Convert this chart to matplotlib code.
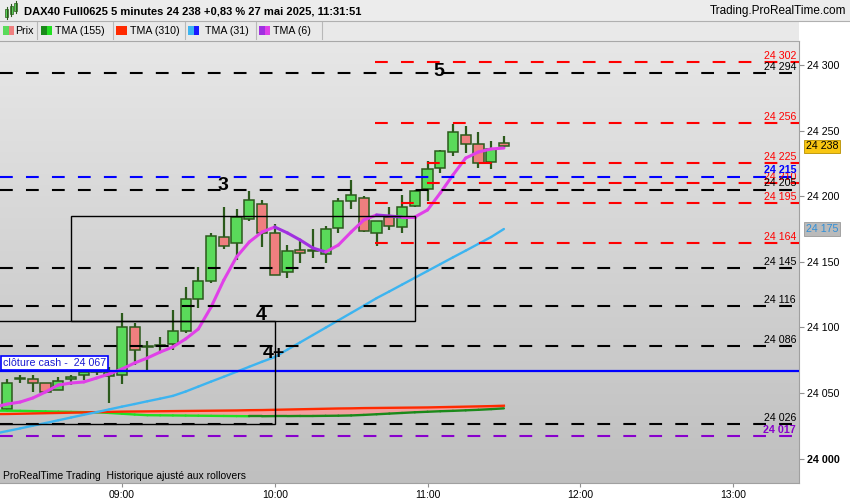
import numpy as np
import matplotlib.pyplot as plt
from matplotlib.patches import Rectangle
from matplotlib.colors import LinearSegmentedColormap
import matplotlib.transforms as mtransforms

plt.rcParams['font.family'] = ['Liberation Sans', 'DejaVu Sans']
plt.rcParams['lines.scale_dashes'] = False
NARROW = ['Liberation Sans Narrow', 'Liberation Sans', 'DejaVu Sans']

# 5 minute candles, 08:15 -> 11:30
opens = [24038, 24060.5, 24061, 24058, 24052, 24061, 24064, 24066, 24063, 24064,
         24100, 24086, 24085.5, 24087, 24097, 24122, 24135, 24169, 24164, 24183,
         24194, 24172, 24142, 24159, 24158.5, 24156, 24176, 24196, 24199, 24172,
         24184, 24176.5, 24192.5, 24205.5, 24221.5, 24234, 24247, 24240, 24226, 24240.5]
highs = [24061, 24064, 24064, 24058, 24062, 24064, 24069, 24068, 24070, 24111,
         24103, 24090, 24093, 24113, 24131, 24146, 24172, 24192, 24190, 24204,
         24197, 24179, 24163, 24167, 24175, 24177, 24199, 24212, 24200, 24181,
         24192, 24201, 24204.5, 24227, 24235, 24255, 24253.5, 24249, 24242, 24246]
lows = [24037, 24058, 24051, 24050, 24052, 24056, 24060, 24064, 24042, 24057,
        24071, 24067, 24081, 24083, 24096, 24115, 24134, 24160, 24151, 24181,
        24161, 24140, 24138, 24149, 24153, 24149, 24172, 24190, 24173, 24162,
        24174, 24172, 24192, 24196, 24218, 24231, 24233, 24221.5, 24221, 24237]
closes = [24058, 24061, 24058, 24051, 24059, 24062, 24066, 24066.5, 24066, 24100,
          24083, 24085, 24086.5, 24097, 24122, 24135, 24170, 24162, 24184, 24197,
          24172, 24140, 24158, 24157, 24159, 24175, 24196, 24201, 24173.5, 24181,
          24177, 24192, 24204, 24221, 24234.5, 24249, 24240, 24225, 24236, 24238]

# moving averages, first value = bar before 08:15
tma6 = [24039.3, 24041.6, 24043.1, 24046.2, 24050.8, 24056.1, 24057.6, 24058.4, 24061.4, 24064.5,
        24068.3, 24072.9, 24076.7, 24081.2, 24085.1, 24091.2, 24098.8, 24115.5, 24136.1, 24153.7,
        24165.1, 24172.7, 24176.5, 24172.0, 24166.6, 24160.5, 24157.5, 24162.8, 24172.7, 24181.9,
        24185.7, 24184.9, 24184.1, 24184.1, 24189.5, 24202.4, 24216.2, 24229.1, 24233.7, 24236.0, 24236.7]
tma31 = [24019.0, 24021.0, 24023.0, 24025.1, 24027.1, 24029.2, 24031.3, 24033.4, 24035.4, 24037.5,
         24039.6, 24041.6, 24043.7, 24045.7, 24047.8, 24051.1, 24054.9, 24058.7, 24062.4, 24066.2,
         24070.0, 24073.8, 24077.4, 24083.1, 24088.6, 24094.2, 24099.8, 24105.4, 24111.0, 24116.6,
         24122.3, 24127.4, 24132.6, 24137.8, 24143.0, 24148.2, 24153.4, 24158.5, 24163.7, 24168.9, 24175.0]
tma155 = [24036.6, 24036.5, 24036.4, 24036.2, 24036.0, 24035.8, 24035.6, 24035.4, 24035.3, 24034.8,
          24034.2, 24033.6, 24033.1, 24033.0, 24032.9, 24032.8, 24032.7, 24032.6, 24032.5, 24032.4,
          24032.3, 24032.3, 24032.4, 24032.4, 24032.5, 24032.5, 24032.6, 24032.7, 24032.9, 24033.3,
          24033.8, 24034.3, 24034.8, 24035.3, 24035.7, 24036.1, 24036.4, 24036.8, 24037.2, 24037.7, 24038.3]
tma310 = [24033.9, 24034.0, 24034.2, 24034.4, 24034.6, 24034.8, 24035.0, 24035.2, 24035.4, 24035.6,
          24035.8, 24035.9, 24036.0, 24036.1, 24036.2, 24036.3, 24036.4, 24036.5, 24036.6, 24036.7,
          24036.9, 24037.0, 24037.2, 24037.4, 24037.6, 24037.8, 24038.0, 24038.2, 24038.3, 24038.5,
          24038.6, 24038.7, 24038.8, 24038.9, 24039.0, 24039.2, 24039.4, 24039.6, 24039.8, 24040.0, 24040.3]

black_levels = [24294, 24205, 24145, 24116, 24086, 24026]
red_levels = [24302, 24256, 24225, 24210, 24195, 24164]
blue_level = 24215
purple_level = 24017
cash_close = 24067
last_price = 24238

time_ticks = [9, 21, 33, 45, 57]
time_labels = ['09:00', '10:00', '11:00', '12:00', '13:00']
price_ticks = [24000, 24050, 24100, 24150, 24200, 24250, 24300]

# boxes (start bar, end bar, low, high) and wave labels
boxes = [(5, 32, 24105, 24185), (-1, 21, 24026, 24105)]
waves = [('3', 16.9, 24208), ('4', 19.9, 24109), ('4+', 20.9, 24080), ('5', 33.9, 24295)]


def fmt(v):
    return f'{v:,}'.replace(',', ' ')


W, H = 850, 500


def fig_box(x0, y0, x1, y1):
    return [x0 / W, 1 - y1 / H, (x1 - x0) / W, (y1 - y0) / H]


fig = plt.figure(figsize=(8.5, 5), dpi=100)
fig.patch.set_facecolor('white')

# header bars
fig.add_artist(Rectangle((0, 1 - 21 / H), 1, 21 / H, transform=fig.transFigure,
                         fc='#ececec', ec='none'))
fig.add_artist(Rectangle((0, 1 - 41 / H), 799 / W, 20 / H, transform=fig.transFigure,
                         fc='#e9e9e9', ec='none'))
fig.add_artist(plt.Line2D([0, 1], [1 - 21 / H] * 2, transform=fig.transFigure, color='#b0b0b0', lw=0.8))
fig.add_artist(plt.Line2D([0, 799 / W], [1 - 40.5 / H] * 2, transform=fig.transFigure, color='#a8a8a8', lw=0.8))

# little candle icon
for cx, cy0, cy1 in [(6.5, 9, 17), (11, 6, 14), (15.5, 3, 11)]:
    fig.add_artist(plt.Line2D([cx / W] * 2, [1 - (cy1 + 2) / H, 1 - (cy0 - 2) / H],
                              transform=fig.transFigure, color='#2b5a1b', lw=0.8))
    fig.add_artist(Rectangle(((cx - 1.5) / W, 1 - cy1 / H), 3 / W, (cy1 - cy0) / H,
                             transform=fig.transFigure, fc='#5ada5a', ec='#2b5a1b', lw=0.5))

fig.text(24 / W, 1 - 11 / H, 'DAX40 Full0625 5 minutes 24 238 +0,83 % 27 mai 2025, 11:31:51',
         fontsize=8, weight='bold', va='center', ha='left')
fig.text(846 / W, 1 - 11 / H, 'Trading.ProRealTime.com', fontsize=8.5, va='center', ha='right')

# legend row
legend_items = [
    ('Prix', ['#5ada5a', '#ef7f7f'], 3, 15),
    ('TMA (155)', ['#1a8a1a', '#22e022'], 41, 55),
    ('TMA (310)', ['#ff2a00', '#ff2a00'], 116, 130),
    ('TMA (31)', ['#3cb4f0', '#1a1aff'], 188, 205),
    ('TMA (6)', ['#a030e0', '#e040e8'], 259, 273),
]
for name, cols, sx, tx in legend_items:
    fig.add_artist(Rectangle((sx / W, 1 - 35 / H), 5.5 / W, 9 / H, transform=fig.transFigure,
                             fc=cols[0], ec='none'))
    fig.add_artist(Rectangle(((sx + 5.5) / W, 1 - 35 / H), 5.5 / W, 9 / H, transform=fig.transFigure,
                             fc=cols[1], ec='none'))
    fig.text(tx / W, 1 - 31 / H, name, fontsize=7.7, va='center', ha='left')
for sep in [37, 113, 185, 256, 322]:
    fig.add_artist(plt.Line2D([sep / W] * 2, [1 - 39 / H, 1 - 22 / H], transform=fig.transFigure,
                              color='#b8b8b8', lw=0.8))

# main axes
ax = fig.add_axes(fig_box(0, 41, 799, 483))
xlim = (-0.58, 62.18)
ylim = (23981.4, 24318.3)
ax.set_xlim(*xlim)
ax.set_ylim(*ylim)

bg = LinearSegmentedColormap.from_list('bg', ['#bfbfbf', '#e7e7e7'])
ax.imshow(np.linspace(0, 1, 256).reshape(-1, 1), extent=[xlim[0], xlim[1], ylim[0], ylim[1]],
          origin='lower', aspect='auto', cmap=bg, zorder=0)

# candles
wick = '#2b5a1b'
for i in range(len(opens)):
    o, h, l, c = opens[i], highs[i], lows[i], closes[i]
    ax.vlines(i, l, h, color=wick, lw=1.6, zorder=2)
    fc = '#5ada5a' if c >= o else '#ef7f7f'
    ax.add_patch(Rectangle((i - 0.4, min(o, c)), 0.8, max(abs(c - o), 0.6),
                           fc=fc, ec=wick, lw=1.1, zorder=3))

ma_x = np.arange(-1, len(opens))


def slope_line(vals, up_col, down_col, lw, z):
    for k in range(len(vals) - 1):
        col = up_col if vals[k + 1] >= vals[k] else down_col
        ax.plot(ma_x[k:k + 2], vals[k:k + 2], color=col, lw=lw,
                solid_capstyle='round', zorder=z)


g = np.array(tma155)
r = np.array(tma310)
ax.fill_between(ma_x, g, r, where=r >= g, interpolate=True, color='#f2a0a0', lw=0, zorder=4)
ax.fill_between(ma_x, g, r, where=r < g, interpolate=True, color='#a8e8a8', lw=0, zorder=4)
slope_line(tma155, '#1a8a1a', '#22e022', 1.7, 5)
ax.plot(ma_x, tma310, color='#ff2a00', lw=1.7, zorder=5)
slope_line(tma31, '#3cb4f0', '#1a1aff', 1.7, 5)
slope_line(tma6, '#e040e8', '#a030e0', 2.2, 6)

# horizontal levels
dash = (0, (9.2, 9.5))
lbl_x = 61.95
for lv in red_levels:
    ax.hlines(lv, 28.9, xlim[1], colors='#ff0000', lw=1.5, linestyles=[dash], zorder=7)
    ax.annotate(fmt(lv), (lbl_x, lv), xytext=(0, 2.3), textcoords='offset points',
                ha='right', va='baseline', fontsize=7.7, color='#ff0000', zorder=8)
ax.axhline(blue_level, color='#0000ff', lw=1.5, ls=dash, zorder=7)
ax.annotate(fmt(blue_level), (lbl_x, blue_level), xytext=(0, 2.3), textcoords='offset points',
            ha='right', va='baseline', fontsize=7.7, color='#0000ff', weight='bold', zorder=8)
for lv in black_levels:
    ax.axhline(lv, color='black', lw=1.5, ls=dash, zorder=7)
    ax.annotate(fmt(lv), (lbl_x, lv), xytext=(0, 2.3), textcoords='offset points',
                ha='right', va='baseline', fontsize=7.7, color='black', zorder=8)
ax.axhline(purple_level, color='#8800cc', lw=1.5, ls=dash, zorder=7)
ax.annotate(fmt(purple_level), (lbl_x, purple_level), xytext=(0, 2.3), textcoords='offset points',
            ha='right', va='baseline', fontsize=7.7, color='#8800cc', weight='bold', zorder=8)

ax.axhline(cash_close, color='#0000ff', lw=1.6, zorder=7)
ax.annotate('clôture cash -  ' + fmt(cash_close), (xlim[0], cash_close), xytext=(2, 2.2),
            textcoords='offset points', ha='left', va='bottom', fontsize=7.7, color='#1a1ad0',
            bbox=dict(boxstyle='square,pad=0.2', fc='white', ec='#0000ff', lw=1.2), zorder=9)

for x0, x1, y0, y1 in boxes:
    ax.add_patch(Rectangle((x0, y0), x1 - x0, y1 - y0, fill=False, ec='black', lw=1.0, zorder=7))

for txt, wx, wy in waves:
    ax.text(wx, wy, txt, fontsize=14, weight='bold', ha='center', va='center', color='black', zorder=9)

# axes styling
for s in ['left', 'top']:
    ax.spines[s].set_visible(False)
for s in ['right', 'bottom']:
    ax.spines[s].set_color('#a0a0a0')
    ax.spines[s].set_linewidth(0.8)

ax.yaxis.tick_right()
ax.set_yticks(price_ticks, [fmt(v) for v in price_ticks])
ax.tick_params(axis='y', length=3.5, color='#909090', labelsize=7.7, pad=2.5)
for t in ax.get_yticklabels():
    if t.get_text() == '24 000':
        t.set_fontweight('bold')
ax.set_xticks(time_ticks, time_labels)
ax.tick_params(axis='x', length=3, color='#909090', labelsize=7.5, pad=2)
for t in ax.get_xticklabels():
    t.set_family(NARROW)

# price boxes on the axis
trans = mtransforms.blended_transform_factory(ax.transAxes, ax.transData)
ax.annotate(fmt(last_price), (1, last_price), xycoords=trans, xytext=(5, 0), textcoords='offset points',
            ha='left', va='center', fontsize=7.7, color='black', annotation_clip=False,
            bbox=dict(boxstyle='square,pad=0.15', fc='#f8c612', ec='#b89000', lw=0.6))
ax.annotate(fmt(round(tma31[-1])), (1, tma31[-1]), xycoords=trans, xytext=(5, 0), textcoords='offset points',
            ha='left', va='center', fontsize=7.7, color='#2f8fd8', annotation_clip=False,
            bbox=dict(boxstyle='square,pad=0.15', fc='#bababa', ec='#9a9a9a', lw=0.6))

fig.text(3 / W, 1 - 476 / H, 'ProRealTime Trading  Historique ajusté aux rollovers',
         fontsize=7.5, va='center', ha='left', family=NARROW)

fig.savefig('out.png', dpi=100)
